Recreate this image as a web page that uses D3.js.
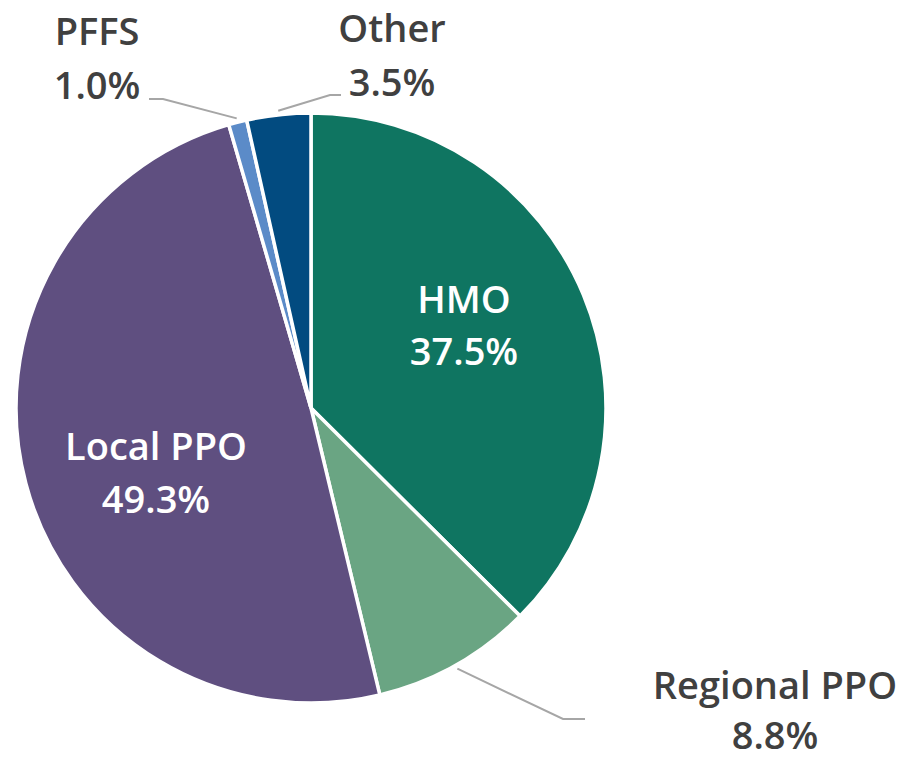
<!DOCTYPE html>
<html>
<head>
<meta charset="utf-8">
<script src="https://cdn.jsdelivr.net/npm/d3@7"></script>
<style>
  html, body { margin: 0; padding: 0; background: #fff; }
  svg { display: block; }
  text { font-family: "Open Sans", "Noto Sans", sans-serif; font-weight: 600; }
</style>
</head>
<body>
<svg id="chart" width="907" height="759"></svg>
<script>
// Plan-type shares of enrollment (percent), clockwise from 12 o'clock
const categories = ["HMO", "Regional PPO", "Local PPO", "PFFS", "Other"];
const shares = [37.5, 8.8, 49.3, 1.0, 3.5];
const shareLabels = ["37.5%", "8.8%", "49.3%", "1.0%", "3.5%"];

const colors = ["#0f7561", "#6aa583", "#5f4f80", "#5b8bc8", "#024b80"];

const width = 907, height = 759;
const cx = 311, cy = 408, radius = 295;

const svg = d3.select("#chart");
const g = svg.append("g").attr("transform", `translate(${cx},${cy})`);

const pie = d3.pie().sort(null).value(d => d.value);
const arcs = pie(categories.map((c, i) => ({ name: c, value: shares[i], label: shareLabels[i], color: colors[i] })));

const arc = d3.arc().innerRadius(0).outerRadius(radius);

g.selectAll("path.slice")
  .data(arcs)
  .join("path")
  .attr("class", "slice")
  .attr("d", arc)
  .attr("fill", d => d.data.color)
  .attr("stroke", "#fff")
  .attr("stroke-width", 3.5)
  .attr("stroke-linejoin", "miter");

// Label placement: inside labels sit on the slice, outside labels get a leader line
const labelLayout = {
  "HMO":          { inside: true,  x: 464, y: 313, gap: 52 },
  "Local PPO":    { inside: true,  x: 156, y: 460, gap: 53 },
  "Regional PPO": { inside: false, x: 775, y: 699, gap: 50, elbow: [563, 719], end: [585, 719] },
  "PFFS":         { inside: false, x: 97,  y: 45,  gap: 54, elbow: [163, 99],  end: [149, 99] },
  "Other":        { inside: false, x: 392, y: 42,  gap: 54, elbow: [330, 95],  end: [341, 95] }
};

const rimArc = d3.arc().innerRadius(radius + 4).outerRadius(radius + 4);

arcs.forEach(d => {
  const L = labelLayout[d.data.name];
  if (!L.inside) {
    const p = rimArc.centroid(d);
    const start = [cx + p[0], cy + p[1]];
    svg.append("polyline")
      .attr("points", [start, L.elbow, L.end].map(q => q.join(",")).join(" "))
      .attr("fill", "none")
      .attr("stroke", "#a6a6a6")
      .attr("stroke-width", 2);
  }
  const t = svg.append("text")
    .attr("text-anchor", "middle")
    .attr("font-size", 38)
    .attr("fill", L.inside ? "#ffffff" : "#404040");
  t.append("tspan").attr("x", L.x).attr("y", L.y).text(d.data.name);
  t.append("tspan").attr("x", L.x).attr("y", L.y + L.gap).text(d.data.label);
});
</script>
</body>
</html>
